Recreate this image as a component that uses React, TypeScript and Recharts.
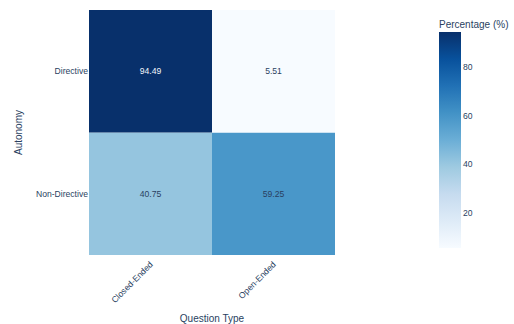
import React from "react";
import { BarChart, Bar, XAxis, YAxis, Cell, LabelList, Label } from "recharts";

const questionTypes = ["Closed-Ended", "Open-Ended"];
const autonomyLevels = ["Non-Directive", "Directive"];
const directiveValues = [94.49, 5.51];
const nonDirectiveValues = [40.75, 59.25];
const colorbarTicks = [20, 40, 60, 80];

const zMin = Math.min(...directiveValues, ...nonDirectiveValues);
const zMax = Math.max(...directiveValues, ...nonDirectiveValues);

const BLUES: [number, number[]][] = [
  [0, [247, 251, 255]],
  [0.125, [222, 235, 247]],
  [0.25, [198, 219, 239]],
  [0.375, [158, 202, 225]],
  [0.5, [107, 174, 214]],
  [0.625, [66, 146, 198]],
  [0.75, [33, 113, 181]],
  [0.875, [8, 81, 156]],
  [1, [8, 48, 107]],
];

function blues(v: number): string {
  const t = Math.max(0, Math.min(1, (v - zMin) / (zMax - zMin)));
  for (let i = 1; i < BLUES.length; i++) {
    const [p1, c1] = BLUES[i];
    const [p0, c0] = BLUES[i - 1];
    if (t <= p1) {
      const f = (t - p0) / (p1 - p0);
      const c = c0.map((a, k) => Math.round(a + (c1[k] - a) * f));
      return `rgb(${c[0]},${c[1]},${c[2]})`;
    }
  }
  return "rgb(8,48,107)";
}

const rows = questionTypes.map((q, i) => ({
  q,
  nonDir: nonDirectiveValues[i],
  dir: directiveValues[i],
  unitA: 1,
  unitB: 1,
}));

const colorbarData = [{ name: "cb", range: [zMin, zMax] }];

const FONT = '"Liberation Sans", Arial, sans-serif';
const INK = "#2a3f5f";

const cellLabel = (props: any) => {
  const { x, y, width, height, value } = props;
  const light = (value - zMin) / (zMax - zMin) > 0.7;
  return (
    <text
      x={x + width / 2}
      y={y + height / 2}
      textAnchor="middle"
      dominantBaseline="central"
      fontSize={8.6}
      fontFamily={FONT}
      fill={light ? "#f2f5fa" : INK}
    >
      {Number(value).toFixed(2)}
    </text>
  );
};

const XTick = (props: any) => {
  const { x, y, payload } = props;
  const ax = x + 3;
  const ay = y + 8;
  return (
    <text
      x={ax}
      y={ay}
      transform={`rotate(-45 ${ax} ${ay})`}
      textAnchor="end"
      fontSize={8.6}
      fontFamily={FONT}
      fill={INK}
    >
      {payload.value}
    </text>
  );
};

export default function App() {
  return (
    <div style={{ position: "absolute", left: 0, top: 0, width: 514, height: 324, background: "#fff" }}>
      <div style={{ position: "absolute", left: 0, top: 0 }}>
        <BarChart
          width={514}
          height={324}
          data={rows}
          margin={{ top: 10, right: 179, bottom: 0, left: 0 }}
          barCategoryGap={0}
          barGap={0}
        >
          <XAxis
            dataKey="q"
            height={69}
            axisLine={false}
            tickLine={false}
            tickSize={0}
            interval={0}
            tick={<XTick />}
          >
            <Label
              value="Question Type"
              position="insideBottom"
              offset={2}
              fontSize={10}
              fontFamily={FONT}
              fill={INK}
            />
          </XAxis>
          <YAxis
            type="number"
            domain={[0, 2]}
            ticks={[0.5, 1.5]}
            tickFormatter={(v: number) => autonomyLevels[Math.floor(v)]}
            width={89}
            axisLine={false}
            tickLine={false}
            tickSize={0}
            tickMargin={1}
            tick={{ fontSize: 8.6, fontFamily: FONT, fill: INK }}
          >
            <Label
              content={(p: any) => {
                const vb = p.viewBox;
                const cx = 18;
                const cy = vb.y + vb.height / 2;
                return (
                  <text
                    x={cx}
                    y={cy}
                    transform={`rotate(-90 ${cx} ${cy})`}
                    textAnchor="middle"
                    dominantBaseline="central"
                    fontSize={10}
                    fontFamily={FONT}
                    fill={INK}
                  >
                    Autonomy
                  </text>
                );
              }}
            />
          </YAxis>
          <Bar dataKey="unitA" stackId="s" isAnimationActive={false}>
            {rows.map((r, i) => (
              <Cell key={`a${i}`} fill={blues(r.nonDir)} />
            ))}
            <LabelList dataKey="nonDir" content={cellLabel} />
          </Bar>
          <Bar dataKey="unitB" stackId="s" isAnimationActive={false}>
            {rows.map((r, i) => (
              <Cell key={`b${i}`} fill={blues(r.dir)} />
            ))}
            <LabelList dataKey="dir" content={cellLabel} />
          </Bar>
        </BarChart>
      </div>
      <div style={{ position: "absolute", left: 439, top: 0 }}>
        <BarChart
          width={75}
          height={324}
          data={colorbarData}
          margin={{ top: 32, right: 0, bottom: 76, left: 0 }}
          barCategoryGap={0}
        >
          <defs>
            <linearGradient id="bluesGrad" x1="0" y1="1" x2="0" y2="0">
              {BLUES.map(([p, c]) => (
                <stop key={p} offset={`${p * 100}%`} stopColor={`rgb(${c[0]},${c[1]},${c[2]})`} />
              ))}
            </linearGradient>
          </defs>
          <XAxis dataKey="name" hide />
          <YAxis
            orientation="right"
            type="number"
            domain={[zMin, zMax]}
            ticks={colorbarTicks}
            width={53}
            axisLine={false}
            tickLine={false}
            tickSize={0}
            tickMargin={2}
            tick={{ fontSize: 8.6, fontFamily: FONT, fill: INK, textAnchor: "start" }}
          >
            <Label
              content={(p: any) => {
                const vb = p.viewBox;
                return (
                  <text
                    x={vb.x - 22}
                    y={vb.y - 8}
                    textAnchor="start"
                    dominantBaseline="central"
                    fontSize={10}
                    fontFamily={FONT}
                    fill={INK}
                  >
                    Percentage (%)
                  </text>
                );
              }}
            />
          </YAxis>
          <Bar dataKey="range" fill="url(#bluesGrad)" isAnimationActive={false} />
        </BarChart>
      </div>
    </div>
  );
}
